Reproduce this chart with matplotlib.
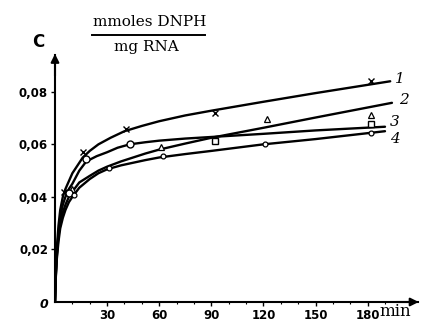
import numpy as np
import matplotlib.pyplot as plt

# smooth curve knots (min, C)
t1 = [0, 0.5, 1, 2, 3, 4.5, 6, 8, 10, 13, 16, 20, 25, 32, 40, 50, 60, 75, 90, 120, 150, 193]
c1 = [0, 0.012, 0.020, 0.029, 0.035, 0.040, 0.043, 0.046, 0.049, 0.052, 0.055, 0.0575,
      0.060, 0.0625, 0.065, 0.067, 0.0688, 0.071, 0.0728, 0.0762, 0.0795, 0.084]
t2 = [0, 0.5, 1, 2, 3, 4.5, 6, 8, 10, 14, 20, 25, 30, 38, 45, 52, 60, 75, 90, 120, 150, 194]
c2 = [0, 0.010, 0.017, 0.025, 0.030, 0.034, 0.037, 0.040, 0.042, 0.0455, 0.048, 0.050,
      0.0515, 0.0535, 0.055, 0.0565, 0.058, 0.0603, 0.0625, 0.0663, 0.0702, 0.0758]
t3 = [0, 0.5, 1, 2, 3, 4.5, 6, 8, 10, 14, 18, 24, 30, 36, 43, 52, 60, 75, 90, 120, 150, 190]
c3 = [0, 0.011, 0.018, 0.026, 0.032, 0.037, 0.040, 0.043, 0.045, 0.050, 0.0535, 0.0555,
      0.057, 0.0587, 0.060, 0.0608, 0.0614, 0.0622, 0.0628, 0.064, 0.0653, 0.0667]
t4 = [0, 0.5, 1, 2, 3, 4.5, 6, 8, 10, 14, 20, 25, 30, 38, 45, 52, 60, 75, 90, 120, 150, 190]
c4 = [0, 0.010, 0.016, 0.023, 0.028, 0.032, 0.035, 0.038, 0.040, 0.0435, 0.0468, 0.049,
      0.0505, 0.052, 0.053, 0.054, 0.055, 0.0563, 0.0575, 0.060, 0.062, 0.065]

# measured points
p1_t = [5, 16, 41, 92, 182]
p1_c = [0.042, 0.057, 0.066, 0.072, 0.084]
p2_t = [10, 61, 122, 182]
p2_c = [0.043, 0.059, 0.0697, 0.0712]
p3o_t = [8, 18, 43]
p3o_c = [0.0415, 0.0545, 0.060]
p3s_t = [92, 182]
p3s_c = [0.0613, 0.0678]
p4_t = [11, 31, 62, 121, 182]
p4_c = [0.0408, 0.051, 0.0556, 0.0602, 0.0644]

xticks = [30, 60, 90, 120, 150, 180]
yticks = [0.02, 0.04, 0.06, 0.08]
ylabels = ['0,02', '0,04', '0,06', '0,08']

fig = plt.figure(figsize=(4.26, 3.21), dpi=100)
ax = fig.add_axes([55/426, 19/321, 363/426, 247/321])
ax.set_xlim(0, 209)
ax.set_ylim(0, 0.094)

k = dict(color='black', lw=1.7, solid_capstyle='round', solid_joinstyle='round')
for t, c in [(t1, c1), (t2, c2), (t3, c3), (t4, c4)]:
    ax.plot(t, c, **k)

ax.plot(p1_t, p1_c, 'x', color='black', ms=4, mew=1.0)
ax.plot(p2_t, p2_c, '^', mfc='white', mec='black', ms=4, mew=0.9)
ax.plot(p3o_t, p3o_c, 'o', mfc='white', mec='black', ms=5, mew=1.0)
ax.plot(p3s_t, p3s_c, 's', mfc='white', mec='black', ms=4, mew=1.0)
ax.plot(p4_t, p4_c, 'o', mfc='white', mec='black', ms=3.5, mew=0.9)

for lab, t, c in [('1', 196, 0.0848), ('2', 198, 0.0768), ('3', 193, 0.0685), ('4', 193, 0.0622)]:
    ax.text(t, c, lab, fontsize=11, style='italic', family='DejaVu Serif', va='center')

for s in ['top', 'right']:
    ax.spines[s].set_visible(False)
for s in ['left', 'bottom']:
    ax.spines[s].set_linewidth(1.5)

ax.annotate('', xy=(0, 0.0955), xytext=(0, 0.085),
            arrowprops=dict(arrowstyle='-|>', color='black', lw=1.5, mutation_scale=12),
            annotation_clip=False)
ax.annotate('', xy=(211, 0), xytext=(195, 0),
            arrowprops=dict(arrowstyle='-|>', color='black', lw=1.5, mutation_scale=12),
            annotation_clip=False)

ax.set_xticks(xticks)
ax.set_xticklabels([str(v) for v in xticks])
ax.set_xticks(np.arange(10, 200, 10), minor=True)
ax.set_yticks(yticks)
ax.set_yticklabels(ylabels)
ax.tick_params(axis='both', direction='out', length=3, width=1, labelsize=8.5, pad=2)
ax.tick_params(axis='x', which='minor', direction='out', length=1.5, width=0.8)
for lb in ax.get_xticklabels() + ax.get_yticklabels():
    lb.set_fontweight('bold')

ax.text(-4, -0.001, '0', fontsize=9, style='italic', fontweight='bold', ha='right', va='center')

fig.text(395/426, 1 - 311/321, 'min', fontsize=12, family='DejaVu Serif', ha='center', va='center')
fig.text(38/426, 1 - 42/321, 'C', fontsize=12, fontweight='bold', ha='center', va='center')
fig.text(150/426, 1 - 22/321, 'mmoles DNPH', fontsize=11, family='DejaVu Serif', ha='center', va='center')
fig.text(146/426, 1 - 47/321, 'mg RNA', fontsize=11, family='DejaVu Serif', ha='center', va='center')
fig.add_artist(plt.Line2D([92/426, 205/426], [1 - 35/321, 1 - 35/321], color='black', lw=1.4))

fig.savefig('out.png', dpi=100)
